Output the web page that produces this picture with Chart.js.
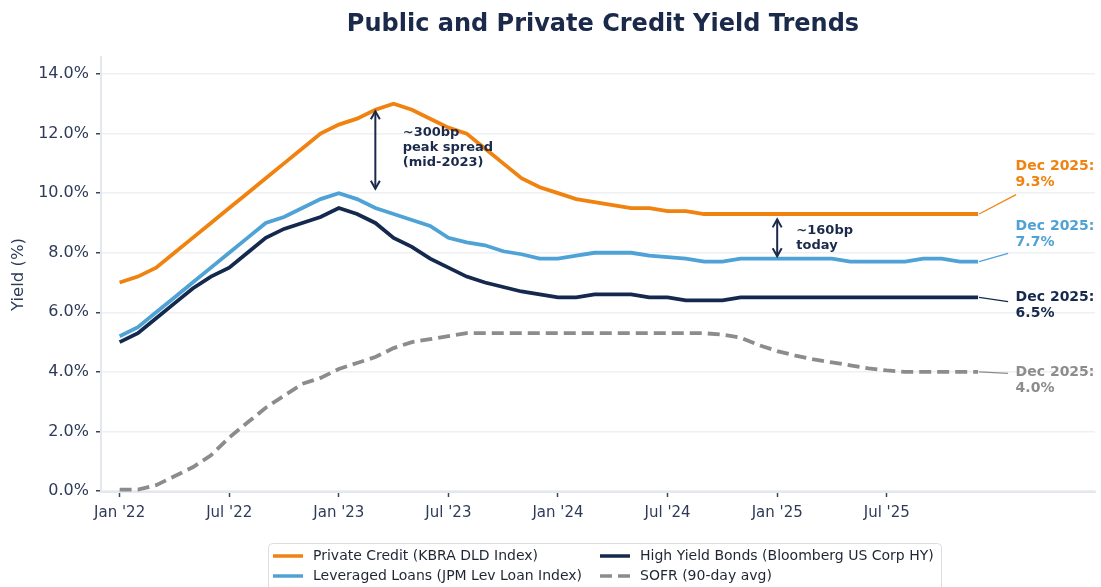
<!DOCTYPE html>
<html>
<head>
<meta charset="utf-8">
<script src="https://cdn.jsdelivr.net/npm/chart.js@4.4.1/dist/chart.umd.min.js"></script>
<style>
  html, body { margin: 0; padding: 0; background: #fff; }
</style>
</head>
<body>
<canvas id="yieldChart" width="1101" height="587"></canvas>
<script>
// monthly points, Jan 2022 .. Dec 2025 (month index 0..47)
const tickMonths = [0, 6, 12, 18, 24, 30, 36, 42];
const tickLabels = ["Jan '22", "Jul '22", "Jan '23", "Jul '23", "Jan '24", "Jul '24", "Jan '25", "Jul '25"];
const yTicks = [0, 2, 4, 6, 8, 10, 12, 14];

const seriesNames = [
  "Private Credit (KBRA DLD Index)",
  "Leveraged Loans (JPM Lev Loan Index)",
  "High Yield Bonds (Bloomberg US Corp HY)",
  "SOFR (90-day avg)"
];

const privateCredit = [
  7.0, 7.2, 7.5, 8.0, 8.5, 9.0, 9.5, 10.0, 10.5, 11.0, 11.5, 12.0,
  12.3, 12.5, 12.8, 13.0, 12.8, 12.5, 12.2, 12.0, 11.5, 11.0, 10.5, 10.2,
  10.0, 9.8, 9.7, 9.6, 9.5, 9.5, 9.4, 9.4, 9.3, 9.3, 9.3, 9.3,
  9.3, 9.3, 9.3, 9.3, 9.3, 9.3, 9.3, 9.3, 9.3, 9.3, 9.3, 9.3
];
const leveragedLoans = [
  5.2, 5.5, 6.0, 6.5, 7.0, 7.5, 8.0, 8.5, 9.0, 9.2, 9.5, 9.8,
  10.0, 9.8, 9.5, 9.3, 9.1, 8.9, 8.5, 8.35, 8.25, 8.05, 7.95, 7.8,
  7.8, 7.9, 8.0, 8.0, 8.0, 7.9, 7.85, 7.8, 7.7, 7.7, 7.8, 7.8,
  7.8, 7.8, 7.8, 7.8, 7.7, 7.7, 7.7, 7.7, 7.8, 7.8, 7.7, 7.7
];
const highYield = [
  5.0, 5.3, 5.8, 6.3, 6.8, 7.2, 7.5, 8.0, 8.5, 8.8, 9.0, 9.2,
  9.5, 9.3, 9.0, 8.5, 8.2, 7.8, 7.5, 7.2, 7.0, 6.85, 6.7, 6.6,
  6.5, 6.5, 6.6, 6.6, 6.6, 6.5, 6.5, 6.4, 6.4, 6.4, 6.5, 6.5,
  6.5, 6.5, 6.5, 6.5, 6.5, 6.5, 6.5, 6.5, 6.5, 6.5, 6.5, 6.5
];
const sofr = [
  0.05, 0.05, 0.2, 0.5, 0.8, 1.2, 1.8, 2.3, 2.8, 3.2, 3.6, 3.8,
  4.1, 4.3, 4.5, 4.8, 5.0, 5.1, 5.2, 5.3, 5.3, 5.3, 5.3, 5.3,
  5.3, 5.3, 5.3, 5.3, 5.3, 5.3, 5.3, 5.3, 5.3, 5.25, 5.15, 4.9,
  4.7, 4.55, 4.42, 4.32, 4.22, 4.12, 4.05, 4.0, 4.0, 4.0, 4.0, 4.0
];

const colors = ["#F0820F", "#4FA2D6", "#14294D", "#8C8C8C"];
const navy = "#1B2A4A";
const textColor = "#2E3A59";
const font = "'DejaVu Sans', sans-serif";

// spread callouts (month index, top/bottom of arrow, where the text starts)
const spreadNotes = [
  { month: 14, top: 12.75, bottom: 10.15, textMonth: 15.5, textValue: 12.02, lines: ["~300bp", "peak spread", "(mid-2023)"] },
  { month: 36, top: 9.12, bottom: 7.88, textMonth: 37.05, textValue: 8.75, lines: ["~160bp", "today"] }
];
// end labels: first text line height (in %) and where the leader line meets it
const endNotes = [
  { textValue: 10.9, joinValue: 9.95, joinDx: 38 },
  { textValue: 8.87, joinValue: 7.98, joinDx: 30 },
  { textValue: 6.49, joinValue: 6.36, joinDx: 30 },
  { textValue: 3.98, joinValue: 3.95, joinDx: 30 }
];

const allSeries = [privateCredit, leveragedLoans, highYield, sofr];

function toPoints(arr) {
  return arr.map((v, i) => ({ x: i, y: v }));
}

function drawArrow(ctx, x, y1, y2) {
  ctx.beginPath();
  ctx.moveTo(x, y1);
  ctx.lineTo(x, y2);
  ctx.stroke();
  [[y1, 1], [y2, -1]].forEach(([y, d]) => {
    ctx.beginPath();
    ctx.moveTo(x - 4.5, y + d * 8);
    ctx.lineTo(x, y);
    ctx.lineTo(x + 4.5, y + d * 8);
    ctx.stroke();
  });
}

const overlay = {
  id: "overlay",
  afterDatasetsDraw(chart) {
    const ctx = chart.ctx;
    const xs = chart.scales.x;
    const ys = chart.scales.y;
    ctx.save();

    // spread arrows
    ctx.strokeStyle = navy;
    ctx.lineWidth = 2;
    spreadNotes.forEach(n => {
      const x = xs.getPixelForValue(n.month);
      drawArrow(ctx, x, ys.getPixelForValue(n.top), ys.getPixelForValue(n.bottom));
      ctx.fillStyle = navy;
      ctx.font = "bold 13px " + font;
      ctx.textAlign = "left";
      ctx.textBaseline = "middle";
      const tx = xs.getPixelForValue(n.textMonth);
      let ty = ys.getPixelForValue(n.textValue);
      n.lines.forEach(line => {
        ctx.fillText(line, tx, ty);
        ty += 15;
      });
    });

    // end-of-line labels
    allSeries.forEach((arr, i) => {
      const last = arr.length - 1;
      const px = xs.getPixelForValue(last);
      const py = ys.getPixelForValue(arr[last]);
      const n = endNotes[i];
      ctx.strokeStyle = colors[i];
      ctx.lineWidth = 1.2;
      ctx.beginPath();
      ctx.moveTo(px + 1, py);
      ctx.lineTo(px + n.joinDx, ys.getPixelForValue(n.joinValue));
      ctx.stroke();
      ctx.fillStyle = colors[i];
      ctx.font = "bold 14px " + font;
      ctx.textAlign = "left";
      ctx.textBaseline = "middle";
      const ty = ys.getPixelForValue(n.textValue);
      ctx.fillText("Dec 2025:", px + 37.5, ty);
      ctx.fillText(arr[last].toFixed(1) + "%", px + 37.5, ty + 16);
    });
    ctx.restore();
  },
  afterDraw(chart) {
    const ctx = chart.ctx;
    const area = chart.chartArea;
    ctx.save();

    // title, centred over the plot
    ctx.fillStyle = navy;
    ctx.font = "bold 24px " + font;
    ctx.textAlign = "center";
    ctx.textBaseline = "middle";
    ctx.fillText("Public and Private Credit Yield Trends", (area.left + area.right) / 2 + 5, 25);

    // legend box, two columns
    ctx.strokeStyle = "#DADDE2";
    ctx.lineWidth = 1;
    ctx.fillStyle = "#fff";
    ctx.beginPath();
    ctx.roundRect(268.5, 543.5, 673, 60, 4);
    ctx.fill();
    ctx.stroke();

    const cols = [273, 600];
    const rows = [556, 576];
    const order = [0, 2, 1, 3];
    order.forEach((si, k) => {
      const x = cols[k % 2];
      const y = rows[Math.floor(k / 2)];
      ctx.strokeStyle = colors[si];
      ctx.lineWidth = 3.5;
      ctx.setLineDash(si === 3 ? [12, 6] : []);
      ctx.beginPath();
      ctx.moveTo(x, y);
      ctx.lineTo(x + 30, y);
      ctx.stroke();
      ctx.setLineDash([]);
      ctx.fillStyle = "#1F2533";
      ctx.font = "14px " + font;
      ctx.textAlign = "left";
      ctx.textBaseline = "middle";
      ctx.fillText(seriesNames[si], x + 40, y);
    });
    ctx.restore();
  }
};

Chart.defaults.font.family = font;

new Chart(document.getElementById("yieldChart"), {
  type: "line",
  data: {
    datasets: allSeries.map((arr, i) => ({
      label: seriesNames[i],
      data: toPoints(arr),
      borderColor: colors[i],
      backgroundColor: colors[i],
      borderWidth: 3.8,
      borderDash: i === 3 ? [12, 6] : [],
      pointRadius: 0,
      tension: 0,
      order: [2, 1, 0, 3][i]
    }))
  },
  options: {
    responsive: false,
    devicePixelRatio: 1,
    animation: false,
    layout: { padding: { top: 57, right: 6, bottom: 0, left: 0 } },
    plugins: {
      legend: { display: false },
      title: { display: false },
      tooltip: { enabled: false }
    },
    scales: {
      x: {
        type: "linear",
        min: -1.02,
        max: 53.4,
        afterBuildTicks: s => { s.ticks = tickMonths.map(v => ({ value: v })); },
        afterFit: s => { s.height = 95; },
        ticks: {
          autoSkip: false,
          maxRotation: 0,
          padding: 7,
          color: textColor,
          font: { size: 15 },
          callback: v => tickLabels[tickMonths.indexOf(v)]
        },
        grid: {
          drawOnChartArea: false,
          drawTicks: true,
          tickLength: 5,
          tickColor: "#3A4560",
          tickWidth: 1.5
        },
        border: { color: "#E4E7EB", width: 2 }
      },
      y: {
        min: -0.03,
        max: 14.57,
        afterBuildTicks: s => { s.ticks = yTicks.map(v => ({ value: v })); },
        afterFit: s => { s.width = 101; },
        ticks: {
          padding: 7,
          color: textColor,
          font: { size: 16 },
          callback: v => v.toFixed(1) + "%"
        },
        grid: {
          color: "#EEF0F4",
          lineWidth: 1.5,
          drawTicks: true,
          tickLength: 5,
          tickColor: "#3A4560",
          tickWidth: 1.5
        },
        border: { color: "#E4E7EB", width: 2 },
        title: {
          display: true,
          text: "Yield (%)",
          color: textColor,
          font: { size: 16.5 },
          padding: { top: 9, bottom: 0 }
        }
      }
    }
  },
  plugins: [overlay]
});
</script>
</body>
</html>
